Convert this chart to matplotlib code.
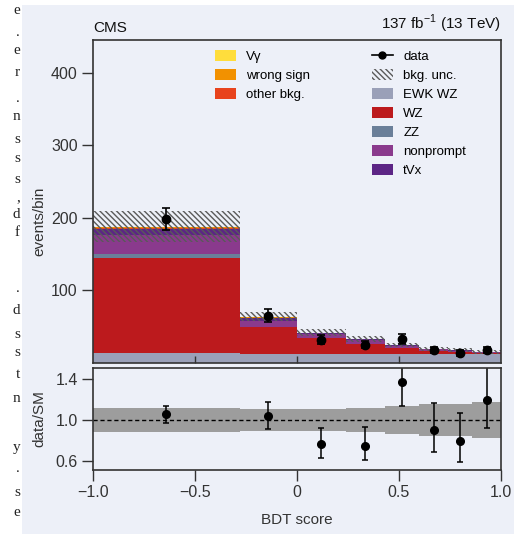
import numpy as np
import matplotlib
matplotlib.use("Agg")
import matplotlib.pyplot as plt
from matplotlib.patches import Patch, Rectangle
from matplotlib.lines import Line2D

plt.rcParams['font.family'] = ['Liberation Sans Narrow', 'Liberation Sans', 'DejaVu Sans']
plt.rcParams['mathtext.fontset'] = 'custom'
plt.rcParams['mathtext.rm'] = 'Liberation Sans'
plt.rcParams['hatch.linewidth'] = 1.0

# bin edges of the BDT score
edges = [-1.0, -0.28, 0.0, 0.24, 0.43, 0.60, 0.74, 0.86, 1.0]

# stacked backgrounds, bottom to top (events/bin)
ewk_wz    = [14.0, 12.0, 12.0, 12.0, 12.5, 12.5, 12.5, 12.5]
wz        = [130.0, 37.0, 22.0, 14.0, 8.0, 4.0, 2.5, 1.0]
zz        = [6.0, 1.0, 0.7, 0.5, 0.3, 0.2, 0.2, 0.1]
nonprompt = [27.0, 8.0, 5.0, 4.5, 2.5, 2.0, 1.7, 1.0]
tvx       = [8.0, 3.5, 1.5, 1.5, 1.0, 0.6, 0.5, 0.3]
other_bkg = [1.5, 1.0, 0.4, 0.3, 0.2, 0.1, 0.06, 0.05]
wrong_sign = [1.0, 1.0, 0.2, 0.1, 0.1, 0.05, 0.02, 0.02]
vgamma    = [0.5, 0.5, 0.2, 0.1, 0.1, 0.05, 0.02, 0.02]

# relative background uncertainty per bin
bkg_unc = [0.115, 0.105, 0.105, 0.115, 0.135, 0.155, 0.155, 0.18]

# data
data     = [198, 65, 32, 25, 33, 18, 14, 18]
data_err = [15, 9, 6, 5, 7, 4.5, 4, 4.5]

# data / SM
ratio    = [1.06, 1.04, 0.76, 0.75, 1.37, 0.90, 0.79, 1.20]
ratio_lo = [0.086, 0.13, 0.136, 0.145, 0.23, 0.21, 0.206, 0.28]
ratio_hi = [0.08, 0.14, 0.158, 0.184, 0.23, 0.27, 0.28, 0.33]

# page text cut off at the left border
margin_chars = ['e', '.', 'e', 'r', '.', 'n', 's', 's', 's', ',', 'd', 'f', '.',
                'd', 's', 's', 't', 'n', 'y', '.', 's', 'e']
margin_y = [10, 32, 50, 72, 98, 117, 139, 158, 180, 198, 214, 232, 288,
            310, 334, 352, 375, 398, 447, 468, 492, 512]

procs = [
    ('EWK WZ', ewk_wz, '#9aa0b8'),
    ('WZ', wz, '#bc1a1d'),
    ('ZZ', zz, '#6a7f99'),
    ('nonprompt', nonprompt, '#8a3a8d'),
    ('tVx', tvx, '#5c2585'),
    ('other bkg.', other_bkg, '#e8431d'),
    ('wrong sign', wrong_sign, '#f29100'),
    ('V\u03b3', vgamma, '#ffdd3c'),
]

bg = '#edf0f8'
dark = '#333333'
hatch = '\\' * 6

edges = np.array(edges)
left = edges[:-1]
width = np.diff(edges)
centers = left + width / 2

fig = plt.figure(figsize=(5.14, 5.34), dpi=100)
fig.patch.set_facecolor('white')
fig.patches.append(Rectangle((22 / 514, 0), 1, 1 - 5 / 534, transform=fig.transFigure,
                             facecolor=bg, edgecolor='none', zorder=-10))
for ch, yy in zip(margin_chars, margin_y):
    fig.text(20 / 514, 1 - yy / 534, ch, ha='right', va='center', fontsize=11,
             family='Liberation Serif', color='#222222')

ax = fig.add_axes([93 / 514, 1 - 363 / 534, 408 / 514, 323 / 534])
rax = fig.add_axes([93 / 514, 1 - 470 / 534, 408 / 514, 102 / 534])
for a in (ax, rax):
    a.set_facecolor(bg)
    for s in a.spines.values():
        s.set_color(dark)
        s.set_linewidth(1.2)

# stack
bottom = np.zeros(len(left))
for name, vals, col in procs:
    vals = np.array(vals)
    ax.bar(left, vals, width=width, bottom=bottom, align='edge', color=col,
           edgecolor='none', linewidth=0)
    bottom = bottom + vals
total = bottom

unc = np.array(bkg_unc) * total
ax.bar(left, 2 * unc, width=width, bottom=total - unc, align='edge',
       facecolor='none', edgecolor='#5a5a5a', hatch=hatch, linewidth=0)

ax.errorbar(centers, data, yerr=data_err, fmt='o', color='black', ms=6,
            elinewidth=1.2, capsize=3, capthick=1.2)

ax.set_xlim(-1, 1)
ax.set_ylim(0, 445)
ax.set_yticks([100, 200, 300, 400])
ax.set_xticks([-0.5, 0, 0.5])
ax.tick_params(axis='y', direction='out', length=8, width=1, colors=dark,
               labelsize=11.5, pad=3)
ax.tick_params(axis='x', direction='in', length=5, width=1, colors=dark,
               labelbottom=False)
ax.set_ylabel('events/bin', fontsize=11, color=dark)
ax.yaxis.set_label_coords(-0.115, 0.44)

ax.text(0, 1.015, 'CMS', transform=ax.transAxes, ha='left', va='bottom',
        fontsize=11, color='#111111')
ax.text(1, 1.015, r'137 fb$^{-1}$ (13 TeV)', transform=ax.transAxes, ha='right',
        va='bottom', fontsize=11, color='#111111')

# legends
h_left = [Patch(facecolor=c, edgecolor='none') for n, v, c in procs[::-1][:3]]
l_left = [n for n, v, c in procs[::-1][:3]]
leg1 = ax.legend(h_left, l_left, loc='upper left', bbox_to_anchor=(0.285, 0.985),
                 frameon=False, fontsize=9.5, handlelength=1.6, handleheight=0.9,
                 labelspacing=0.45, handletextpad=0.8, borderaxespad=0)
ax.add_artist(leg1)

h_data = Line2D([], [], color='black', marker='o', ms=5, lw=1.2)
h_unc = Patch(facecolor='none', edgecolor='#5a5a5a', hatch=hatch, linewidth=0)
h_right = [h_data, h_unc] + [Patch(facecolor=c, edgecolor='none') for n, v, c in procs[:5]]
l_right = ['data', 'bkg. unc.'] + [n for n, v, c in procs[:5]]
ax.legend(h_right, l_right, loc='upper left', bbox_to_anchor=(0.67, 0.985),
          frameon=False, fontsize=9.5, handlelength=1.6, handleheight=0.9,
          labelspacing=0.45, handletextpad=0.8, borderaxespad=0)

# ratio panel
rax.bar(left, 2 * np.array(bkg_unc), width=width, bottom=1 - np.array(bkg_unc),
        align='edge', color='#9d9d9d', edgecolor='none', linewidth=0)
rax.axhline(1.0, color='black', lw=1, ls=(0, (3, 2)))
rax.errorbar(centers, ratio, yerr=[ratio_lo, ratio_hi], fmt='o', color='black',
             ms=5.5, elinewidth=1.1, capsize=2.5, capthick=1.1)
rax.set_xlim(-1, 1)
rax.set_ylim(0.51, 1.51)
rax.set_yticks([0.6, 1.0, 1.4])
rax.set_yticklabels(['0.6', '1.0', '1.4'])
rax.set_xticks([-1.0, -0.5, 0, 0.5, 1.0])
rax.set_xticklabels(['\u22121.0', '\u22120.5', '0', '0.5', '1.0'])
rax.tick_params(direction='out', length=8, width=1, colors=dark, labelsize=11.5, pad=3)
rax.set_ylabel('data/SM', fontsize=11, color=dark)
rax.yaxis.set_label_coords(-0.115, 0.5)
rax.set_xlabel('BDT score', fontsize=11, color=dark, labelpad=9)

fig.savefig('out.png', dpi=100, facecolor=fig.get_facecolor())
